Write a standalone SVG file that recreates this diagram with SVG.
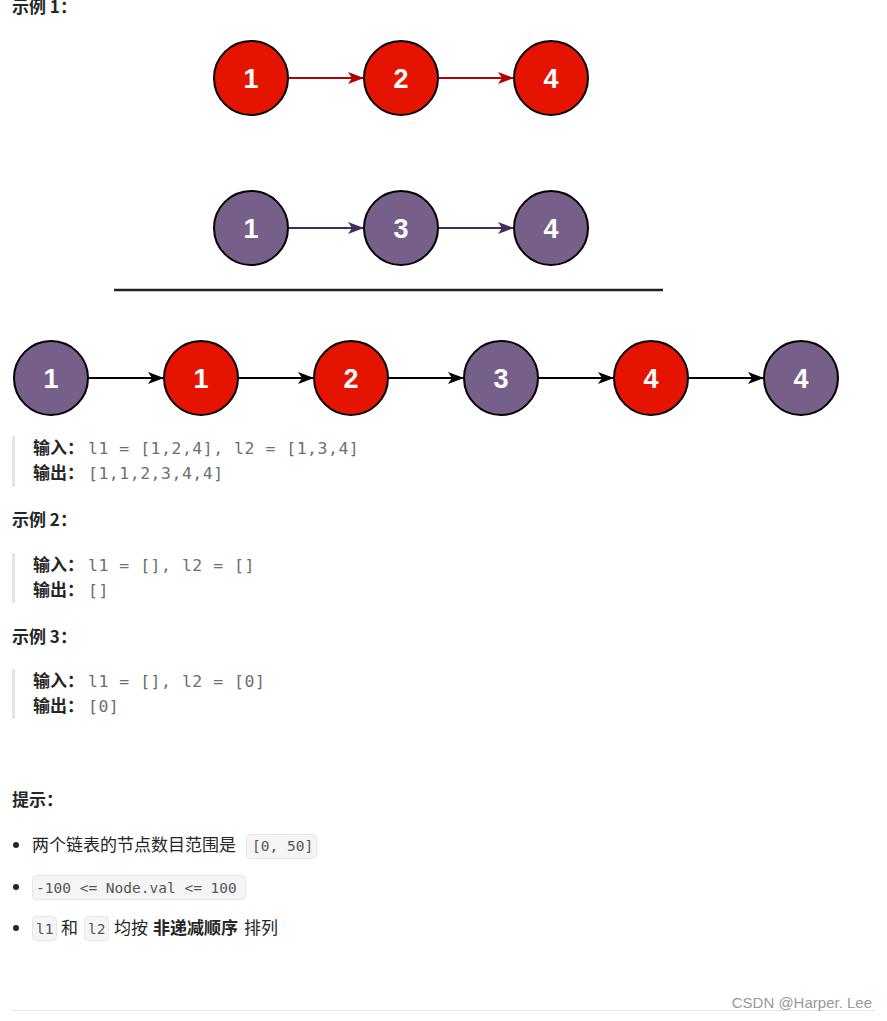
<svg xmlns="http://www.w3.org/2000/svg" width="887" height="1021" viewBox="0 0 887 1021">
<defs>
<marker id="ar" viewBox="0 0 16 12" refX="15" refY="6" markerWidth="16" markerHeight="12" markerUnits="userSpaceOnUse" orient="auto"><path d="M0,0 L16,6 L0,12 L4,6 Z" fill="#B20000"/></marker>
<marker id="ap" viewBox="0 0 16 12" refX="15" refY="6" markerWidth="16" markerHeight="12" markerUnits="userSpaceOnUse" orient="auto"><path d="M0,0 L16,6 L0,12 L4,6 Z" fill="#432D57"/></marker>
<marker id="ak" viewBox="0 0 16 12" refX="15" refY="6" markerWidth="16" markerHeight="12" markerUnits="userSpaceOnUse" orient="auto"><path d="M0,0 L16,6 L0,12 L4,6 Z" fill="#000"/></marker>
</defs>
<style>
.r{fill:#e51400;stroke:#000;stroke-width:2}
.p{fill:#76608a;stroke:#000;stroke-width:2}
.n{font-family:"Liberation Sans",Arial,sans-serif;font-weight:bold;font-size:27px;fill:#fff;text-anchor:middle}
.t{font-family:"Noto Sans CJK SC","Noto Sans",sans-serif;font-size:17px;fill:#262626}
.b{font-weight:bold}
.m{font-family:"DejaVu Sans Mono","Liberation Mono",monospace;font-size:16.5px;fill:#6e6e6e;letter-spacing:0.5px}
.c{font-family:"DejaVu Sans Mono","Liberation Mono",monospace;font-size:14.5px;fill:#555}
.cb{fill:#f5f5f5;stroke:#e6e6e6;stroke-width:1}
.q{fill:#e5e5e5}
.lr{stroke:#B20000;stroke-width:2;fill:none}
.lp{stroke:#432D57;stroke-width:2;fill:none}
.lk{stroke:#000;stroke-width:2;fill:none}
</style>
<rect width="887" height="1021" fill="#fff"/>
<text class="t b" x="12" y="13">示例 1：</text>

<g id="connectors">
<line class="lr" x1="289" y1="78" x2="363" y2="78" marker-end="url(#ar)"/>
<line class="lr" x1="439" y1="78" x2="513" y2="78" marker-end="url(#ar)"/>
<line class="lp" x1="289" y1="228" x2="363" y2="228" marker-end="url(#ap)"/>
<line class="lp" x1="439" y1="228" x2="513" y2="228" marker-end="url(#ap)"/>
<line class="lk" x1="89" y1="378" x2="163" y2="378" marker-end="url(#ak)"/>
<line class="lk" x1="239" y1="378" x2="313" y2="378" marker-end="url(#ak)"/>
<line class="lk" x1="389" y1="378" x2="463" y2="378" marker-end="url(#ak)"/>
<line class="lk" x1="539" y1="378" x2="613" y2="378" marker-end="url(#ak)"/>
<line class="lk" x1="689" y1="378" x2="763" y2="378" marker-end="url(#ak)"/>
</g>

<g id="a1"><circle class="r" cx="251" cy="78" r="37"/><text class="n" x="251" y="88">1</text></g>
<g id="a2"><circle class="r" cx="401" cy="78" r="37"/><text class="n" x="401" y="88">2</text></g>
<g id="a4"><circle class="r" cx="551" cy="78" r="37"/><text class="n" x="551" y="88">4</text></g>

<g id="b1"><circle class="p" cx="251" cy="228" r="37"/><text class="n" x="251" y="238">1</text></g>
<g id="b3"><circle class="p" cx="401" cy="228" r="37"/><text class="n" x="401" y="238">3</text></g>
<g id="b4"><circle class="p" cx="551" cy="228" r="37"/><text class="n" x="551" y="238">4</text></g>

<line x1="114" y1="290" x2="663" y2="290" stroke="#222" stroke-width="2.5"/>

<g id="m1"><circle class="p" cx="51" cy="378" r="37"/><text class="n" x="51" y="388">1</text></g>
<g id="m2"><circle class="r" cx="201" cy="378" r="37"/><text class="n" x="201" y="388">1</text></g>
<g id="m3"><circle class="r" cx="351" cy="378" r="37"/><text class="n" x="351" y="388">2</text></g>
<g id="m4"><circle class="p" cx="501" cy="378" r="37"/><text class="n" x="501" y="388">3</text></g>
<g id="m5"><circle class="r" cx="651" cy="378" r="37"/><text class="n" x="651" y="388">4</text></g>
<g id="m6"><circle class="p" cx="801" cy="378" r="37"/><text class="n" x="801" y="388">4</text></g>

<rect class="q" x="12" y="436" width="3" height="51"/>
<text class="t b" x="33" y="454">输入：</text><text class="m" x="88" y="454">l1 = [1,2,4], l2 = [1,3,4]</text>
<text class="t b" x="33" y="479">输出：</text><text class="m" x="88" y="479">[1,1,2,3,4,4]</text>

<text class="t b" x="12" y="526">示例 2：</text>
<rect class="q" x="12" y="553" width="3" height="50"/>
<text class="t b" x="33" y="571">输入：</text><text class="m" x="88" y="571">l1 = [], l2 = []</text>
<text class="t b" x="33" y="596">输出：</text><text class="m" x="88" y="596">[]</text>

<text class="t b" x="12" y="643">示例 3：</text>
<rect class="q" x="12" y="669" width="3" height="50"/>
<text class="t b" x="33" y="687">输入：</text><text class="m" x="88" y="687">l1 = [], l2 = [0]</text>
<text class="t b" x="33" y="712">输出：</text><text class="m" x="88" y="712">[0]</text>

<text class="t b" x="12" y="806">提示：</text>

<circle cx="16" cy="845" r="3" fill="#262626"/>
<text class="t" x="32" y="851">两个链表的节点数目范围是</text>
<rect class="cb" x="246.5" y="834.5" width="70" height="24" rx="4"/>
<text class="c" x="252" y="851">[0, 50]</text>

<circle cx="16" cy="887" r="3" fill="#262626"/>
<rect class="cb" x="32.5" y="875.5" width="213" height="24" rx="4"/>
<text class="c" x="36" y="893">-100 &lt;= Node.val &lt;= 100</text>

<circle cx="16" cy="928" r="3" fill="#262626"/>
<rect class="cb" x="32.5" y="916.5" width="24" height="24" rx="4"/>
<text class="c" x="36" y="934">l1</text>
<text class="t" x="61" y="934">和</text>
<rect class="cb" x="84.5" y="916.5" width="24" height="24" rx="4"/>
<text class="c" x="88" y="934">l2</text>
<text class="t" x="114" y="934">均按</text>
<text class="t b" x="153" y="934">非递减顺序</text>
<text class="t" x="244" y="934">排列</text>

<line x1="12" y1="1010.5" x2="875" y2="1010.5" stroke="#e5e5e5" stroke-width="1"/>
<text x="872" y="1008" font-family="Liberation Sans,Arial,sans-serif" font-size="15" fill="#999" text-anchor="end">CSDN @Harper. Lee</text>
</svg>
